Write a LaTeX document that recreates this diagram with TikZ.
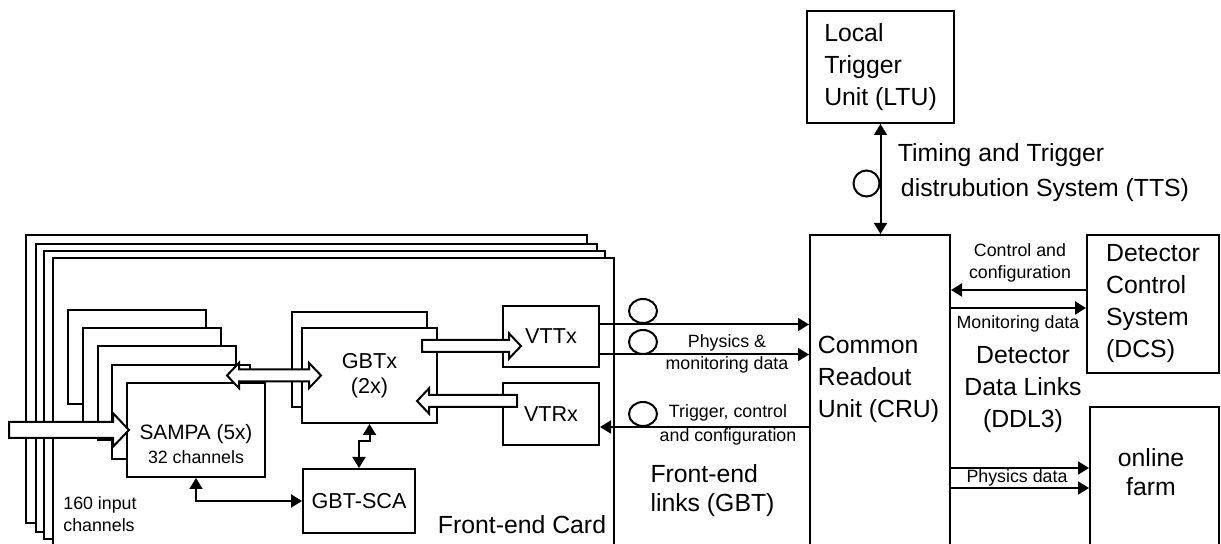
\documentclass[tikz,border=0pt]{standalone}
\usepackage{fontspec}
\setmainfont{Liberation Sans}
\usetikzlibrary{arrows.meta, shapes.geometric}

\tikzset{
  blk/.style={draw, line width=1pt, fill=white, inner sep=0pt, align=center},
  card/.style={blk, minimum width=280.5pt, minimum height=144pt},
  lbl/.style={inner sep=0pt, align=center},
  fat/.style={draw, line width=1pt, fill=white, line join=miter},
  link/.style={line width=1pt, -{Triangle[length=5.5pt, width=6.5pt]}},
  dlink/.style={line width=1pt, {Triangle[length=5.5pt, width=6.5pt]}-{Triangle[length=5.5pt, width=6.5pt]}},
  fiber/.style={draw, line width=1pt, ellipse, minimum width=14pt, minimum height=12pt, inner sep=0pt},
  txtbig/.style={font=\fontsize{12.4}{16}\selectfont},
  txtmid/.style={font=\fontsize{10.8}{12.5}\selectfont},
  txtsmall/.style={font=\fontsize{8.9}{11}\selectfont},
  % hollow arrows: length / half shaft
  pics/fatarrow/.style args={#1/#2}{code={
    \draw[fat] (0,-#2) -- ({#1-2*#2},-#2) -- ({#1-2*#2},{-2.1*#2}) -- (#1,0)
      -- ({#1-2*#2},{2.1*#2}) -- ({#1-2*#2},#2) -- (0,#2) -- cycle;
  }},
  pics/fatdarrow/.style args={#1/#2}{code={
    \draw[fat] (0,0) -- ({2*#2},{2.1*#2}) -- ({2*#2},#2) -- ({#1-2*#2},#2)
      -- ({#1-2*#2},{2.1*#2}) -- (#1,0) -- ({#1-2*#2},{-2.1*#2}) -- ({#1-2*#2},-#2)
      -- ({2*#2},-#2) -- ({2*#2},{-2.1*#2}) -- cycle;
  }}
}

\begin{document}
\begin{tikzpicture}[x=0.5pt, y=-0.5pt]
  \useasboundingbox (0,0) rectangle (1221,544);
  \clip (0,0) rectangle (1221,544);

  % stack of front-end cards
  \foreach \dx/\dy [count=\i] in {0/0, 10/9, 18/16, 27/23}
    \node[card] (card\i) at (306.5+\dx, 379+\dy) {};
  \node[lbl, txtbig] (fecard) at (522,525) {Front-end Card};
  \node[lbl, txtsmall, align=left] (inch) at (100,514.5) {160 input\\channels};

  % SAMPA chips
  \foreach \k in {4,...,1}
    \node[blk, minimum width=69pt, minimum height=47pt] (sampa\k) at ({196-14.75*\k},{430-18.25*\k}) {};
  \node[blk, minimum width=69pt, minimum height=47pt] (sampa) at (196,430) {};
  \node[lbl] (sampatxt) at (196,444) {\fontsize{10.4}{12}\selectfont SAMPA (5x)\\[0pt]\fontsize{8.9}{12}\selectfont 32 channels};

  % GBTx, transceivers, SCA
  \node[blk, minimum width=67.5pt, minimum height=47.5pt] (gbtxb) at (359.5,360) {};
  \node[blk, txtmid, minimum width=67.5pt, minimum height=47.5pt] (gbtx) at (369.5,375.5) {GBTx\\(2x)};
  \node[blk, txtmid, minimum width=48pt, minimum height=30.5pt] (vttx) at (551,336.5) {VTTx};
  \node[blk, txtmid, minimum width=48pt, minimum height=31pt] (vtrx) at (551,414) {VTRx};
  \node[blk, txtmid, minimum width=56pt, minimum height=32pt] (sca) at (359,501) {GBT-SCA};

  % counting room
  \node[blk, txtbig, align=left, minimum width=73.5pt, minimum height=56pt] (ltu) at (880.5,67) {Local\\Trigger\\Unit (LTU)};
  \node[blk, minimum width=70pt, minimum height=162.5pt] (cru) at (880,397.5) {};
  \node[lbl, txtbig, align=left] (crutxt) at (878.5,379.5) {Common\\Readout\\Unit (CRU)};
  \node[blk, txtbig, align=left, minimum width=66pt, minimum height=69pt] (dcs) at (1153,304) {Detector\\Control\\System\\(DCS)};
  \node[blk, minimum width=64.5pt, minimum height=76.5pt] (farm) at (1154.5,483.5) {};
  \node[lbl, font=\fontsize{12.4}{14.5}\selectfont] (farmtxt) at (1151,472) {online\\farm};

  % hollow data paths
  \coordinate (inp) at ([xshift=-58.5pt]sampa.west);
  \pic at (inp) {fatarrow=120/8};
  \pic at ([xshift=-37pt]gbtx.west) {fatdarrow=94/6};
  \pic at ([xshift=-40pt, yshift=-4.75pt]vttx.west) {fatarrow=99/6};
  \pic[xscale=-1] at ([xshift=7.5pt, yshift=6.5pt]vtrx.west) {fatarrow=100/6};

  % on-card links
  \draw[dlink] (sampa.south) |- (sca.west);
  \draw[dlink] (gbtx.south) -- ++(0,17) -| (sca.north);

  % front-end links
  \draw[link] ([yshift=6pt]vttx.east) -- ([yshift=6pt]vttx.east -| cru.west);
  \draw[link] ([yshift=-9pt]vttx.east) -- ([yshift=-9pt]vttx.east -| cru.west);
  \draw[link] ([yshift=-6.5pt]vtrx.east -| cru.west) -- ([yshift=-6.5pt]vtrx.east);
  \node[fiber] (fib1) at (643,311) {};
  \node[fiber] (fib2) at (643,342) {};
  \node[fiber] (fib3) at (643,414) {};
  \node[lbl, txtsmall] (physlbl) at (727,354) {Physics \&\\monitoring data};
  \node[lbl, txtsmall] (trglbl) at (728,425) {Trigger, control\\[1pt]and configuration};
  \node[lbl, align=left, font=\fontsize{12.4}{14.5}\selectfont] (fel) at (712.5,490.5) {Front-end\\links (GBT)};

  % TTS
  \draw[dlink] (ltu.south) -- (ltu.south |- cru.north);
  \node[draw, line width=1pt, circle, minimum size=13pt, inner sep=0pt] (fib4) at (866.5,183.5) {};
  \node[lbl, align=left, font=\fontsize{12.4}{17.5}\selectfont] (tts) at (1043.5,172.5) {Timing and Trigger\\\hspace{1.5pt}distrubution System (TTS)};

  % DCS and farm links
  \draw[link] ([yshift=7pt]dcs.west) -- ([yshift=7pt]dcs.west -| cru.east);
  \draw[link] ([yshift=-2pt]dcs.west -| cru.east) -- ([yshift=-2pt]dcs.west);
  \node[lbl, txtsmall] (ctllbl) at (1020,262.5) {Control and\\configuration};
  \node[lbl, txtsmall] (monlbl) at (1018,324) {Monitoring data};
  \node[lbl, txtbig] (ddl) at (1023,390) {Detector\\Data Links\\(DDL3)};
  \draw[link] ([yshift=7.75pt]farm.west -| cru.east) -- ([yshift=7.75pt]farm.west);
  \draw[link] ([yshift=-2.25pt]farm.west -| cru.east) -- ([yshift=-2.25pt]farm.west);
  \node[lbl, txtsmall] (physdata) at (1017,478) {Physics data};
\end{tikzpicture}
\end{document}
